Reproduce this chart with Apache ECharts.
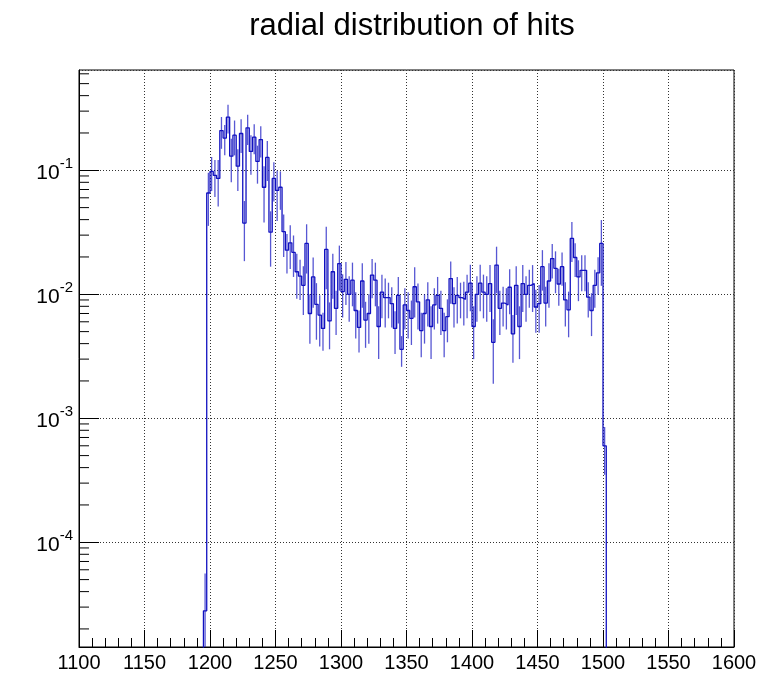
<!DOCTYPE html>
<html>
<head>
<meta charset="utf-8">
<title>radial distribution of hits</title>
<script src="https://cdn.jsdelivr.net/npm/echarts@6/dist/echarts.min.js"></script>
<style>
  html, body { margin: 0; padding: 0; background: #ffffff; }
  #chart { width: 773px; height: 677px; }
</style>
</head>
<body>
<div id="chart"></div>
<script>
// Histogram definition: fixed-width bins starting at binStart
const chartTitle = 'radial distribution of hits';
const binStart = 1195;
const binWidth = 2.5;

// Bin contents (normalised hit density), one entry per bin from binStart
const counts = [
  2.8e-5, 0.0656, 0.098, 0.091, 0.086, 0.209, 0.182, 0.268, 0.13, 0.192,
  0.108, 0.198, 0.0375, 0.22, 0.142, 0.185, 0.118, 0.177, 0.073, 0.127,
  0.0317, 0.086, 0.069, 0.073, 0.032, 0.0227, 0.026, 0.0218, 0.0152, 0.014,
  0.0118, 0.0257, 0.0070, 0.0138, 0.0083, 0.0068, 0.0053, 0.023, 0.0061, 0.0152,
  0.0077, 0.0177, 0.0105, 0.0132, 0.010, 0.013, 0.0074, 0.0054, 0.0128, 0.0062,
  0.0070, 0.0143, 0.013, 0.0055, 0.0104, 0.0094, 0.0094, 0.0084, 0.0053, 0.0098,
  0.0036, 0.0082, 0.0074, 0.0064, 0.0115, 0.0087, 0.0051, 0.0070, 0.009, 0.0055,
  0.0082, 0.0098, 0.0077, 0.0051, 0.0066, 0.0134, 0.0084, 0.0098, 0.0094, 0.0091,
  0.0104, 0.0123, 0.0055, 0.0100, 0.0123, 0.0104, 0.0100, 0.0122, 0.0041, 0.0172,
  0.0077, 0.0085, 0.0082, 0.0114, 0.0048, 0.0118, 0.0055, 0.0122, 0.010, 0.0118,
  0.0122, 0.0079, 0.0084, 0.0167, 0.0085, 0.0128, 0.0194, 0.0162, 0.0121, 0.0167,
  0.009, 0.0075, 0.0282, 0.0198, 0.0138, 0.0156, 0.0156, 0.0095, 0.0074, 0.0118,
  0.0149, 0.0257, 0.0006
];

// Statistical uncertainty of each bin
const errors = [
  2.8e-5, 0.030, 0.030, 0.030, 0.035, 0.060, 0.050, 0.070, 0.050, 0.060,
  0.040, 0.060, 0.019, 0.060, 0.050, 0.050, 0.040, 0.050, 0.035, 0.045,
  0.015, 0.030, 0.030, 0.025, 0.012, 0.008, 0.010, 0.008, 0.006, 0.005,
  0.005, 0.011, 0.003, 0.006, 0.004, 0.003, 0.0018, 0.012, 0.0025, 0.006,
  0.003, 0.007, 0.004, 0.005, 0.004, 0.005, 0.003, 0.002, 0.005, 0.0025,
  0.003, 0.005, 0.005, 0.0025, 0.004, 0.004, 0.003, 0.003, 0.002, 0.004,
  0.001, 0.003, 0.003, 0.0025, 0.005, 0.0035, 0.002, 0.003, 0.0035, 0.0025,
  0.003, 0.004, 0.003, 0.002, 0.0025, 0.005, 0.003, 0.004, 0.003, 0.0035,
  0.004, 0.005, 0.0025, 0.004, 0.005, 0.004, 0.004, 0.005, 0.0022, 0.007,
  0.003, 0.003, 0.003, 0.0045, 0.002, 0.005, 0.0025, 0.005, 0.004, 0.004,
  0.005, 0.003, 0.0035, 0.006, 0.003, 0.005, 0.006, 0.006, 0.004, 0.005,
  0.0035, 0.003, 0.010, 0.006, 0.005, 0.005, 0.005, 0.003, 0.0028, 0.004,
  0.005, 0.014, 0.00025
];

// Axis ranges and tick positions
const xRange = [1100, 1600];
const xTickStep = 50;
const yRange = [1.43e-5, 0.644];
const yDecades = [1e-5, 1e-4, 1e-3, 1e-2, 1e-1];
const yMinorSteps = [2, 3, 4, 5, 6, 7, 8, 9];

const LINE = '#1010c0';
const FONT = '"Liberation Sans", Arimo, Helvetica, Arial, sans-serif';
const yFloor = 1e-8;   // stand-in for empty bins on the log axis

// Bin low edges
const edges = counts.map((_, i) => binStart + i * binWidth);

// Step outline: one point per bin low edge, closed down to the floor on both sides
const stepData = [[binStart - binWidth, yFloor]]
  .concat(counts.map((c, i) => [edges[i], c]))
  .concat([[binStart + counts.length * binWidth, yFloor]]);

// Error bars at bin centres
const errData = counts.map((c, i) => [edges[i] + binWidth / 2, c, errors[i]]);

// Logarithmic minor tick values (2..9 x 10^k) inside the axis range
const yMinorTicks = [];
yDecades.forEach(d => yMinorSteps.forEach(m => {
  const t = m * d;
  if (t > yRange[0] && t < yRange[1]) yMinorTicks.push([xRange[0], t]);
}));

const chart = echarts.init(document.getElementById('chart'), null, { renderer: 'canvas' });

chart.setOption({
  animation: false,
  backgroundColor: '#ffffff',
  title: {
    text: chartTitle,
    left: 407,
    top: 6,
    textAlign: 'center',
    textStyle: { fontFamily: FONT, fontSize: 31, fontWeight: 'normal', color: '#000' }
  },
  grid: {
    left: 79, right: 39, top: 70, bottom: 30,
    show: true, borderColor: '#000', borderWidth: 1, backgroundColor: 'transparent'
  },
  xAxis: {
    type: 'value',
    min: xRange[0], max: xRange[1], interval: xTickStep,
    axisLine: { show: true, onZero: false, lineStyle: { color: '#000', width: 1 } },
    axisTick: { show: true, inside: true, length: 17, lineStyle: { color: '#000', width: 1 } },
    minorTick: { show: true, splitNumber: 5, length: 9, lineStyle: { color: '#000', width: 1 } },
    splitLine: { show: true, lineStyle: { color: '#333', width: 1, type: [1, 2] } },
    axisLabel: {
      fontFamily: FONT, fontSize: 20, color: '#000', margin: 6,
      formatter: function (v) { return String(v); }
    }
  },
  yAxis: {
    type: 'log',
    logBase: 10,
    min: yRange[0], max: yRange[1],
    axisLine: { show: true, onZero: false, lineStyle: { color: '#000', width: 1 } },
    axisTick: { show: true, inside: true, length: 20, lineStyle: { color: '#000', width: 1 } },
    splitLine: { show: true, lineStyle: { color: '#333', width: 1, type: [1, 2] } },
    axisLabel: {
      margin: 6,
      fontFamily: FONT,
      fontSize: 20,
      color: '#000',
      showMinLabel: false,
      showMaxLabel: false,
      formatter: function (v) {
        const p = Math.log10(v);
        const r = Math.round(p);
        if (Math.abs(p - r) > 1e-6) return '';
        return '{b|10}{s|' + r + '}';
      },
      rich: {
        b: { fontFamily: FONT, fontSize: 21, color: '#000', verticalAlign: 'bottom' },
        s: { fontFamily: FONT, fontSize: 15, color: '#000', verticalAlign: 'top', padding: [0, 0, 12, 0] }
      }
    }
  },
  series: [
    {
      name: 'hits',
      type: 'line',
      step: 'end',
      data: stepData,
      showSymbol: false,
      clip: true,
      lineStyle: { color: LINE, width: 1.3 },
      z: 3
    },
    {
      name: 'errors',
      type: 'custom',
      clip: true,
      data: errData,
      encode: { x: 0, y: 1 },
      renderItem: function (params, api) {
        const x = api.value(0), v = api.value(1), e = api.value(2);
        const hi = api.coord([x, v + e]);
        const lo = api.coord([x, v - e > 0 ? v - e : yFloor]);
        return {
          type: 'line',
          shape: { x1: hi[0], y1: hi[1], x2: lo[0], y2: lo[1] },
          style: { stroke: LINE, lineWidth: 1.3, opacity: 0.7 }
        };
      },
      z: 2
    },
    {
      name: 'minor ticks',
      type: 'custom',
      clip: false,
      silent: true,
      data: yMinorTicks,
      renderItem: function (params, api) {
        const p = api.coord([api.value(0), api.value(1)]);
        return {
          type: 'line',
          shape: { x1: p[0], y1: p[1], x2: p[0] + 10, y2: p[1] },
          style: { stroke: '#000', lineWidth: 1 }
        };
      },
      z: 4
    }
  ]
});
</script>
</body>
</html>
